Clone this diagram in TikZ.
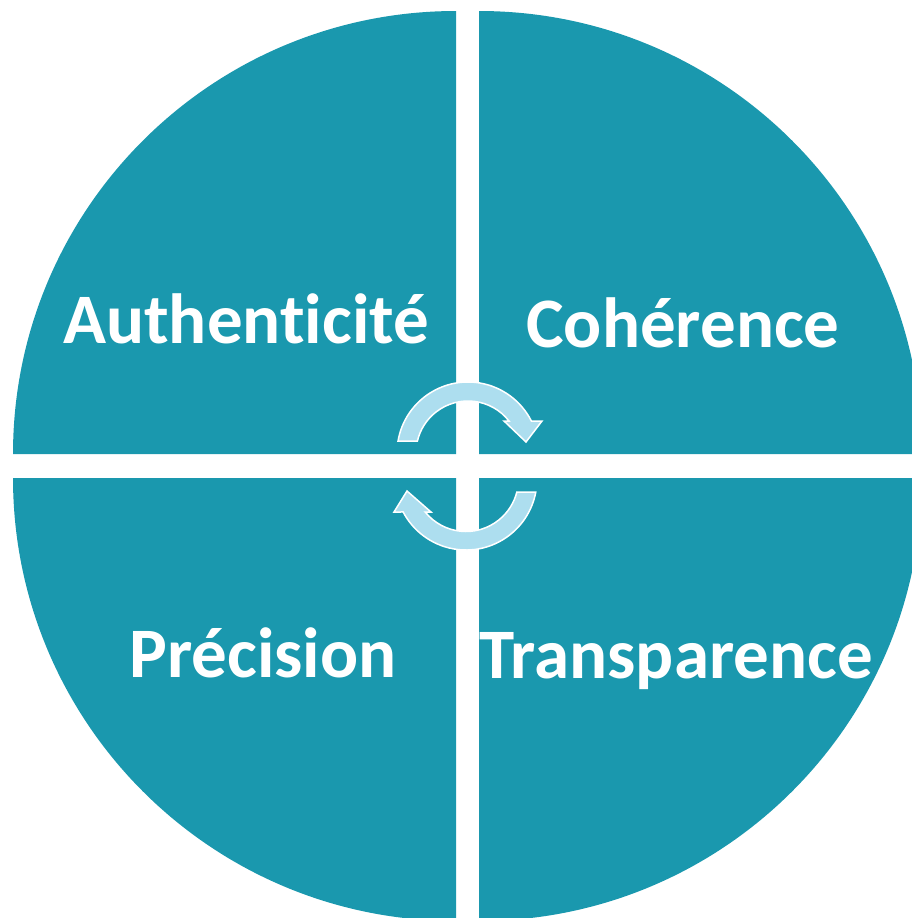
\documentclass[tikz,border=0pt]{standalone}
\usepackage{fontspec}
\setmainfont{Carlito}[Ligatures=NoCommon]
\usetikzlibrary{calc}

\begin{document}
\begin{tikzpicture}[x=1pt, y=-1pt]
  \definecolor{quadteal}{HTML}{1A98AE}
  \definecolor{cyclelight}{HTML}{ADDEEF}
  \tikzstyle{quadrant}=[fill=quadteal]
  \tikzstyle{cyclearrow}=[fill=cyclelight, draw=white, line width=1.5pt, line join=miter]
  \tikzstyle{label}=[anchor=base, inner sep=0pt, text=white, font=\fontsize{71}{84}\selectfont\bfseries]

  \useasboundingbox (0,0) rectangle (912,918);
  \clip (0,0) rectangle (912,918);

  % four quarter discs, pulled apart
  \fill[quadrant] (456,454) -- ++(-443,0) arc[start angle=180, end angle=270, radius=443] -- cycle;
  \fill[quadrant] (479,454) -- ++(0,-443) arc[start angle=270, end angle=360, radius=443] -- cycle;
  \fill[quadrant] (479,478) -- ++(443,0) arc[start angle=0, end angle=90, radius=443] -- cycle;
  \fill[quadrant] (456,478) -- ++(0,443) arc[start angle=90, end angle=180, radius=443] -- cycle;

  \node[label] (auth) at (246,343) {Authenticité};
  \node[label] (coh) at (683,347) {Cohérence};
  \node[label] (prec) at (263,677) {Précision};
  \node[label] (trans) at (676,678) {Transparence};

  % the two turning arrows in the middle
  \coordinate (topc) at (468,453);
  \coordinate (botc) at (466,479);
  \path[cyclearrow] ($(topc)+(189.73:71)$) arc[start angle=189.73, end angle=333.21, radius=71]
    -- (542,421) -- (526,442) -- (504,421)
    -- ($(topc)+(322.02:52)$) arc[start angle=322.02, end angle=193.34, radius=52] -- cycle;
  \path[cyclearrow] ($(botc)+(10.55:71)$) arc[start angle=10.55, end angle=152.31, radius=71]
    -- (394,512) -- (407,491) -- (431,512)
    -- ($(botc)+(141.06:52.5)$) arc[start angle=141.06, end angle=14.34, radius=52.5] -- cycle;

\end{tikzpicture}
\end{document}
